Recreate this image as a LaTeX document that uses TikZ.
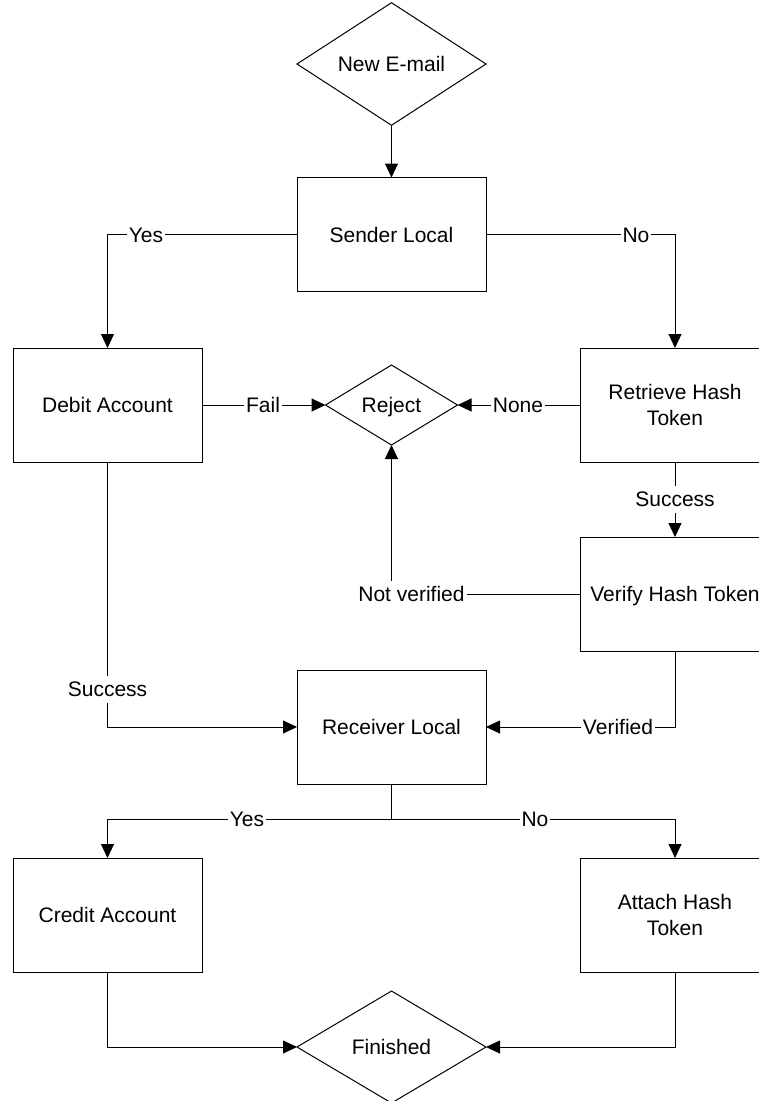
\documentclass[tikz,border=0pt]{standalone}
\usepackage{fontspec}
\setmainfont{Liberation Sans}
\usetikzlibrary{arrows.meta,shapes.geometric}
\begin{document}
\begin{tikzpicture}[x=1pt,y=-1pt,
  font=\fontsize{21}{26}\selectfont,
  box/.style={draw,line width=1pt,fill=white,rectangle,minimum width=189pt,
    minimum height=114pt,inner sep=0pt,outer sep=0pt,align=center,text depth=0pt},
  decision/.style={draw,line width=1pt,fill=white,diamond,inner sep=0pt,
    outer sep=0pt,align=center,text depth=0pt},
  flow/.style={draw,line width=1pt,-{Triangle[length=14pt,width=13pt]}},
  link/.style={draw,line width=1pt},
  lbl/.style={fill=white,inner sep=2pt,text height=19pt,text depth=4pt}]

\useasboundingbox (0,0) rectangle (759,1101);
\clip (0,0) rectangle (759,1101);

% decisions and process steps
\node[decision,minimum width=189pt,minimum height=112pt] (new) at (391.5,64) {New E-mail};
\node[box] (sender)   at (391.5,234.5) {Sender Local};
\node[box] (debit)    at (107.5,405)   {Debit Account};
\node[decision,minimum width=132pt,minimum height=80pt] (reject) at (391.5,405) {Reject};
\node[box] (retrieve) at (675,405)     {Retrieve Hash\\Token};
\node[box] (verify)   at (675,594)     {Verify Hash Token};
\node[box] (receiver) at (391.5,727)   {Receiver Local};
\node[box] (credit)   at (107.5,915)   {Credit Account};
\node[box] (attach)   at (675,915)     {Attach Hash\\Token};
\node[decision,minimum width=189pt,minimum height=112pt] (finished) at (391.5,1047) {Finished};

\coordinate (split) at (391.5,819);

% connectors
\path[flow] (new.south) -- (sender.north);
\path[flow] (sender.west) -| (debit.north);
\path[flow] (sender.east) -| (retrieve.north);
\path[flow] (debit.east) -- (reject.west);
\path[flow] (retrieve.west) -- (reject.east);
\path[flow] (retrieve.south) -- (verify.north);
\path[flow] (verify.west) -| (reject.south);
\path[flow] (debit.south) |- (receiver.west);
\path[flow] (verify.south) |- (receiver.east);
\path[link] (receiver.south) -- (split);
\path[flow] (split) -| (credit.north);
\path[flow] (split) -| (attach.north);
\path[flow] (credit.south) |- (finished.west);
\path[flow] (attach.south) |- (finished.east);

% connector labels
\node[lbl] (lyes1)  at (146,234.5)  {Yes};
\node[lbl] (lno1)   at (636,234.5)  {No};
\node[lbl] (lfail)  at (263,405)    {Fail};
\node[lbl] (lnone)  at (518,405)    {None};
\node[lbl] (lsucc1) at (675,499)    {Success};
\node[lbl] (lnotv)  at (411.5,594)  {Not verified};
\node[lbl] (lsucc2) at (107.5,689)  {Success};
\node[lbl] (lver)   at (618,727)    {Verified};
\node[lbl] (lyes2)  at (247,819)    {Yes};
\node[lbl] (lno2)   at (535,819)    {No};
\end{tikzpicture}
\end{document}
